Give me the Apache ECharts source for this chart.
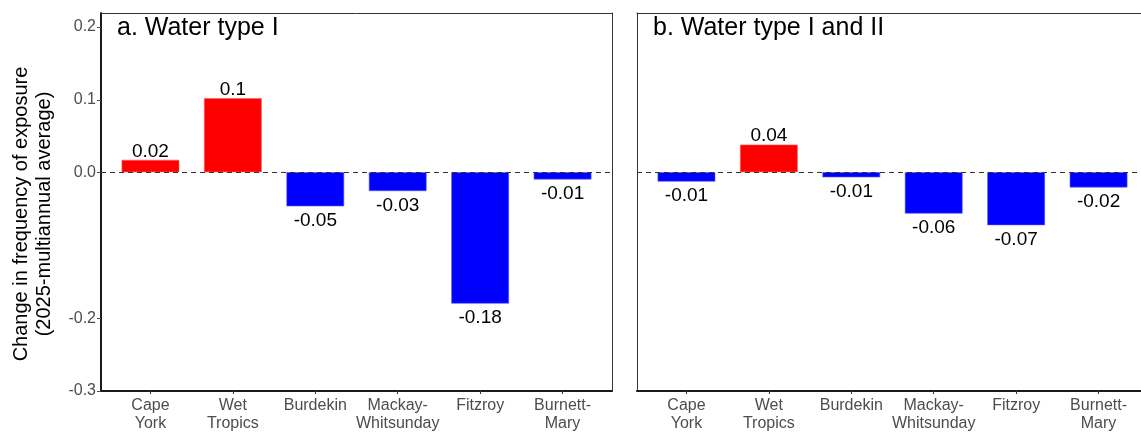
<!DOCTYPE html>
<html>
<head>
<meta charset="utf-8">
<script src="https://cdn.jsdelivr.net/npm/echarts@6/dist/echarts.min.js"></script>
<style>html,body{margin:0;padding:0;background:#fff}#c{width:1141px;height:433px}</style>
</head>
<body>
<div id="c"></div>
<script>
const categories = ['Cape\nYork', 'Wet\nTropics', 'Burdekin', 'Mackay-\nWhitsunday', 'Fitzroy', 'Burnett-\nMary'];
const valuesA = [0.017, 0.102, -0.047, -0.026, -0.181, -0.010];
const labelsA = ['0.02', '0.1', '-0.05', '-0.03', '-0.18', '-0.01'];
const valuesB = [-0.013, 0.038, -0.007, -0.057, -0.073, -0.021];
const labelsB = ['-0.01', '0.04', '-0.01', '-0.06', '-0.07', '-0.02'];
const yTicks = [-0.3, -0.2, 0, 0.1, 0.2];
const titleA = 'a. Water type I';
const titleB = 'b. Water type I and II';
const yTitle = 'Change in frequency of exposure\n(2025-multiannual average)';

const Y_MIN = -0.3, Y_MAX = 0.2193;
const FONT = '"Liberation Sans", Arial, sans-serif';
const PANEL_W = 511, PANEL_TOP = 13, PANEL_H = 378, CANVAS_W = 1141;
const unit = PANEL_W / 6.2;
const panelLefts = [101, 637];

function items(vals) {
  return vals.map(v => ({
    value: v,
    itemStyle: { color: v >= 0 ? '#FF0000' : '#0000FF', borderColor: v >= 0 ? '#ff5a5a' : '#5a5aff', borderWidth: 0.6 },
    label: { position: v >= 0 ? 'top' : 'bottom', distance: v >= 0 ? -1 : 5 }
  }));
}

const grids = [], xAxes = [], yAxes = [], series = [];
const hidden = { axisTick: { show: false }, axisLabel: { show: false }, splitLine: { show: false } };
[0, 1].forEach(p => {
  const L = panelLefts[p];
  const R = CANVAS_W - (L + PANEL_W);
  const fg = p * 2, dg = p * 2 + 1;
  grids.push({ left: L, top: PANEL_TOP, right: R, height: PANEL_H });
  grids.push({ left: L + 0.1 * unit, top: PANEL_TOP, right: R + 0.1 * unit, height: PANEL_H });
  xAxes.push(Object.assign({ gridIndex: fg, type: 'value', min: 0, max: 1, position: 'bottom',
    axisLine: { show: true, onZero: false, lineStyle: { color: '#1a1a1a', width: 2 } } }, hidden));
  xAxes.push(Object.assign({ gridIndex: fg, type: 'value', min: 0, max: 1, position: 'top',
    axisLine: { show: true, onZero: false, lineStyle: { color: '#333', width: 1 } } }, hidden));
  xAxes.push({ gridIndex: dg, type: 'category', data: categories, boundaryGap: true, position: 'bottom',
    axisLine: { show: false, onZero: false }, axisTick: { show: true, alignWithLabel: true, length: 4, lineStyle: { color: '#333' } },
    axisLabel: { color: '#4d4d4d', fontFamily: FONT, fontSize: 16, lineHeight: 18, margin: 7, interval: 0 } });
  yAxes.push({ gridIndex: fg, type: 'value', min: Y_MIN, max: Y_MAX, position: 'left',
    axisLine: { show: true, onZero: false, lineStyle: { color: p === 0 ? '#1a1a1a' : '#333', width: p === 0 ? 2 : 1 } },
    axisTick: { show: p === 0, length: 4, lineStyle: { color: '#4d4d4d' }, customValues: yTicks },
    axisLabel: { show: p === 0, color: '#4d4d4d', fontFamily: FONT, fontSize: 16, margin: 5, customValues: yTicks, formatter: v => v.toFixed(1) },
    splitLine: { show: false } });
  const frameX = xAxes.length - 3;
  if (p === 0) {
    yAxes.push(Object.assign({ gridIndex: fg, type: 'value', min: Y_MIN, max: Y_MAX, position: 'right',
      axisLine: { show: true, onZero: false, lineStyle: { color: '#333', width: 1 } } }, hidden));
  }
  const frameY = p === 0 ? 0 : yAxes.length - 1;
  yAxes.push({ gridIndex: dg, type: 'value', min: Y_MIN, max: Y_MAX, show: false, splitLine: { show: false } });
  const dataY = yAxes.length - 1;
  series.push({ type: 'line', xAxisIndex: frameX, yAxisIndex: frameY, data: [], silent: true,
    markLine: { silent: true, symbol: ['none', 'none'], label: { show: false }, lineStyle: { type: [5, 4], color: '#333', width: 1 }, data: [{ yAxis: 0 }] } });
  const vals = p === 0 ? valuesA : valuesB;
  const labs = p === 0 ? labelsA : labelsB;
  series.push({ type: 'bar', xAxisIndex: xAxes.length - 1, yAxisIndex: dataY, barWidth: '70%', data: items(vals), z: 1,
    label: { show: true, color: '#000', fontFamily: FONT, fontSize: 19, formatter: pr => labs[pr.dataIndex] } });
});

const chart = echarts.init(document.getElementById('c'), null, { renderer: 'canvas' });
chart.setOption({
  animation: false,
  backgroundColor: '#fff',
  grid: grids, xAxis: xAxes, yAxis: yAxes, series: series,
  graphic: [
    { type: 'text', x: 117, y: 28, style: { text: titleA, font: '25px ' + FONT, fill: '#000', verticalAlign: 'middle' } },
    { type: 'text', x: 653, y: 28, style: { text: titleB, font: '25px ' + FONT, fill: '#000', verticalAlign: 'middle' } },
    { type: 'text', x: 33, y: 214, rotation: Math.PI / 2, style: { text: yTitle, font: '20px ' + FONT, fill: '#000', align: 'center', verticalAlign: 'middle', lineHeight: 23 } }
  ]
});
</script>
</body>
</html>
